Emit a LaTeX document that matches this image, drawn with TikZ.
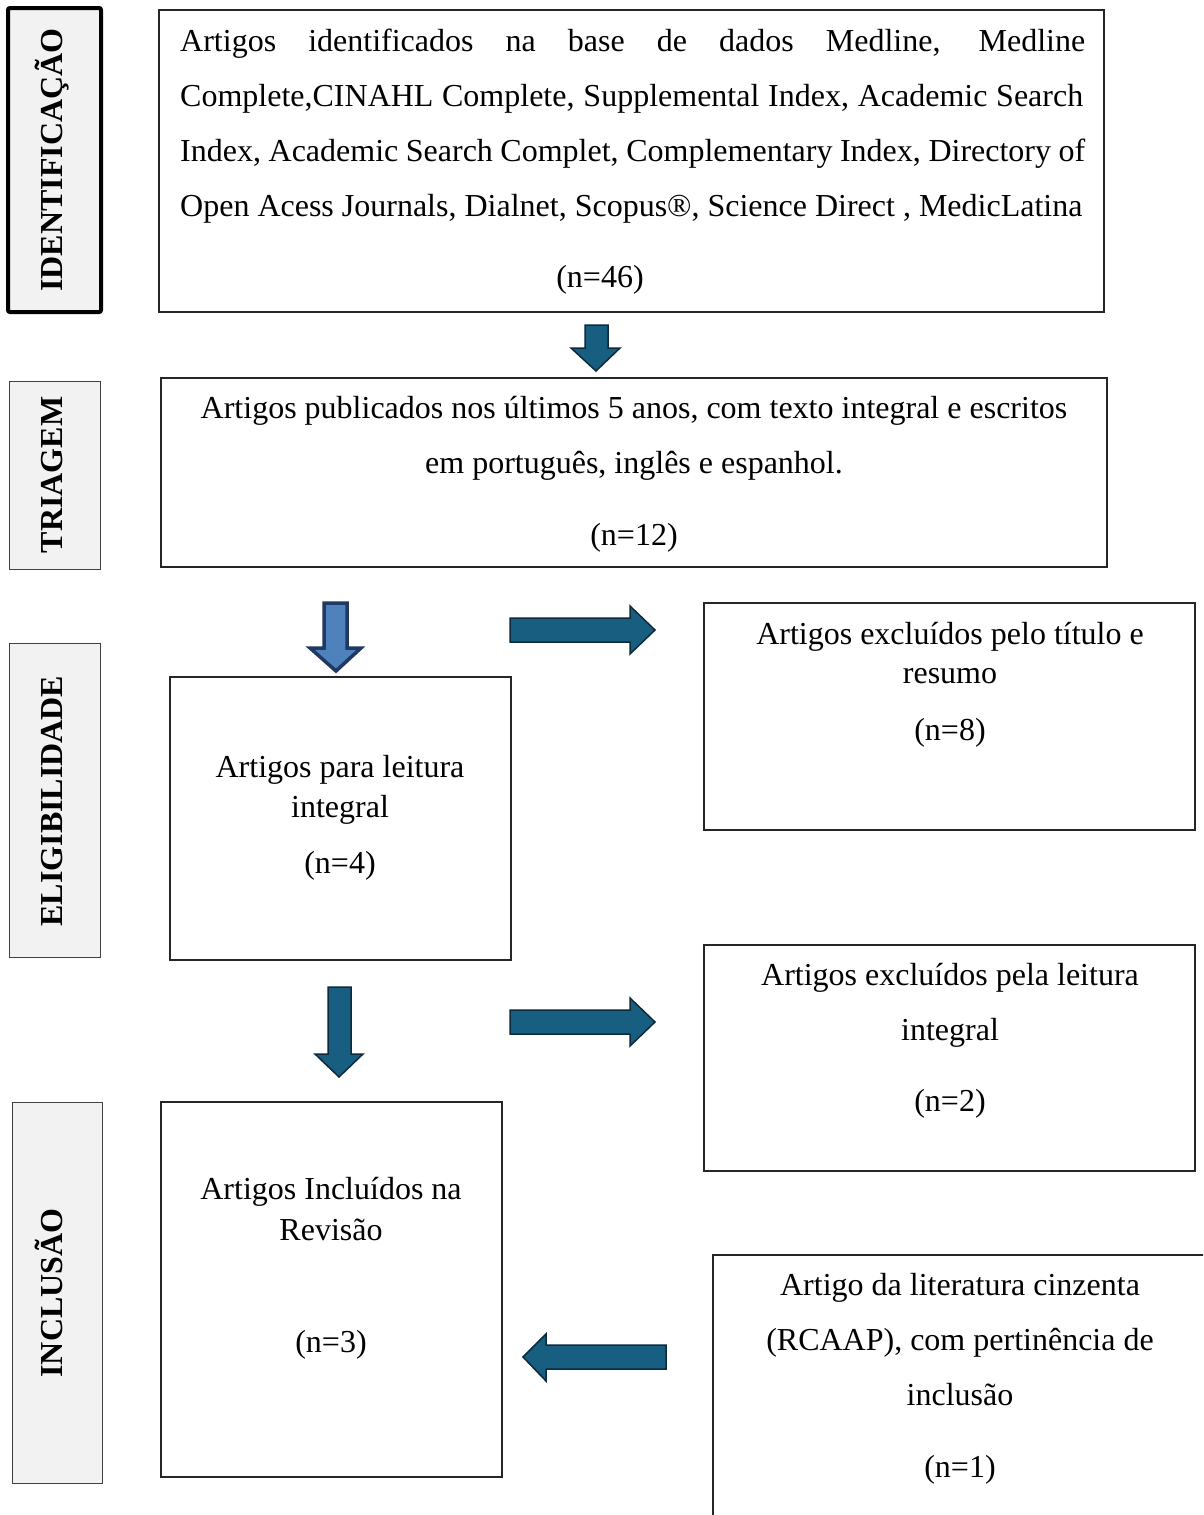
\documentclass[tikz,border=0pt]{standalone}
\usepackage{fontspec}
\setmainfont{Liberation Serif}
\definecolor{arrfill}{RGB}{24,94,128}
\definecolor{arrline}{RGB}{12,42,60}
\definecolor{larrfill}{RGB}{79,129,189}
\definecolor{larrline}{RGB}{31,56,100}
\definecolor{lblfill}{RGB}{242,242,242}
\tikzset{
  box/.style={draw=black!85, line width=1.5pt, inner sep=0pt, outer sep=0pt, anchor=north west},
  lbl/.style={draw=black!75, line width=1pt, fill=lblfill, inner sep=0pt, outer sep=0pt, anchor=north west},
  lbltxt/.style={rotate=90, anchor=base, inner sep=0pt, font=\fontsize{32}{38}\selectfont\bfseries},
  txt/.style={anchor=base, inner sep=0pt, font=\fontsize{32}{38}\selectfont},
  blockarrow/.style={fill=arrfill, draw=arrline, line width=1.5pt, line join=miter},
  lightarrow/.style={fill=larrfill, draw=larrline, line width=3.5pt, line join=miter}
}
\begin{document}
\begin{tikzpicture}[x=1pt,y=-1pt]
\useasboundingbox (0,0) rectangle (1203,1515);
\path[clip] (0,0) rectangle (1203,1515);
\fill[white] (0,0) rectangle (1203,1515);

% stage labels
\node[lbl, draw=black, line width=4pt, rounded corners=2pt, minimum width=93pt, minimum height=304pt] (lid) at (8,8) {};
\node[lbltxt] (lidt) at (62,160) {IDENTIFICAÇÃO};
\node[lbl, minimum width=91pt, minimum height=188pt] (ltr) at (9,381) {};
\node[lbltxt] (ltrt) at (62,475) {TRIAGEM};
\node[lbl, minimum width=91pt, minimum height=314pt] (lel) at (9,643) {};
\node[lbltxt] (lelt) at (62,801) {ELIGIBILIDADE};
\node[lbl, minimum width=90pt, minimum height=381pt] (lin) at (12,1102) {};
\node[lbltxt] (lint) at (62,1293) {INCLUSÃO};

% boxes
\node[box, minimum width=945pt, minimum height=302pt] (b1) at (159,10) {};
\node[txt, anchor=base west] (b1a) at (180,51) {\makebox[905pt][s]{Artigos identificados na base de dados Medline, Medline}};
\node[txt, anchor=base west] (b1b) at (180,106) {\makebox[903pt][s]{Complete,CINAHL Complete, Supplemental Index, Academic Search}};
\node[txt, anchor=base west] (b1c) at (180,161) {\makebox[905pt][s]{Index, Academic Search Complet, Complementary Index, Directory of}};
\node[txt, anchor=base west] (b1d) at (180,216) {Open Acess Journals, Dialnet, Scopus®, Science Direct , MedicLatina};
\node[txt] (b1n) at (600,287) {(n=46)};

\node[box, minimum width=946pt, minimum height=189pt] (b2) at (161,378) {};
\node[txt] (b2a) at (634,418) {Artigos publicados nos últimos 5 anos, com texto integral e escritos};
\node[txt] (b2b) at (634,473) {em português, inglês e espanhol.};
\node[txt] (b2n) at (634,545) {(n=12)};

\node[box, minimum width=341pt, minimum height=283pt] (b3) at (170,677) {};
\node[txt] (b3a) at (340,777) {Artigos para leitura};
\node[txt] (b3b) at (340,817) {integral};
\node[txt] (b3n) at (340,873) {(n=4)};

\node[box, minimum width=491pt, minimum height=227pt] (b4) at (704,603) {};
\node[txt] (b4a) at (950,644) {Artigos excluídos pelo título e};
\node[txt] (b4b) at (950,683) {resumo};
\node[txt] (b4n) at (950,740) {(n=8)};

\node[box, minimum width=491pt, minimum height=226pt] (b5) at (704,945) {};
\node[txt] (b5a) at (950,985) {Artigos excluídos pela leitura};
\node[txt] (b5b) at (950,1040) {integral};
\node[txt] (b5n) at (950,1111) {(n=2)};

\node[box, minimum width=341pt, minimum height=375pt] (b6) at (161,1102) {};
\node[txt] (b6a) at (331,1199) {Artigos Incluídos na};
\node[txt] (b6b) at (331,1240) {Revisão};
\node[txt] (b6n) at (331,1352) {(n=3)};

\node[box, minimum width=520pt, minimum height=300pt] (b7) at (713,1255) {};
\node[txt] (b7a) at (960,1295) {Artigo da literatura cinzenta};
\node[txt] (b7b) at (960,1350) {(RCAAP), com pertinência de};
\node[txt] (b7c) at (960,1405) {inclusão};
\node[txt] (b7n) at (960,1477) {(n=1)};

% block arrows
\draw[blockarrow] (585,325) -- (608,325) -- (608,348) -- (620,348) -- (596,371) -- (571,348) -- (585,348) -- cycle;
\draw[lightarrow] (324,603) -- (347,603) -- (347,648) -- (361,648) -- (336,671) -- (310,648) -- (324,648) -- cycle;
\draw[blockarrow] (510,618) -- (630,618) -- (630,606) -- (655,630) -- (630,654) -- (630,642) -- (510,642) -- cycle;
\draw[blockarrow] (328,987) -- (351,987) -- (351,1054) -- (363,1054) -- (339,1077) -- (315,1054) -- (328,1054) -- cycle;
\draw[blockarrow] (510,1010) -- (630,1010) -- (630,998) -- (655,1022) -- (630,1046) -- (630,1034) -- (510,1034) -- cycle;
\draw[blockarrow] (666,1345) -- (546,1345) -- (546,1334) -- (523,1357) -- (546,1381) -- (546,1369) -- (666,1369) -- cycle;
\end{tikzpicture}
\end{document}
